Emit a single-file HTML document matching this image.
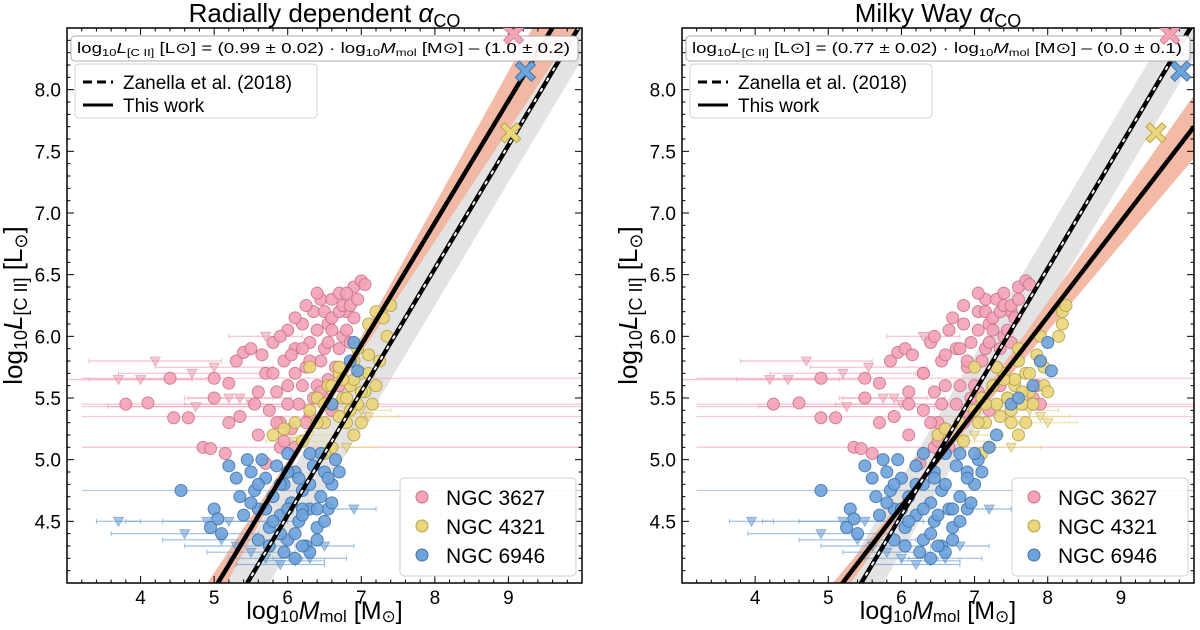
<!DOCTYPE html>
<html><head><meta charset="utf-8">
<style>
body{margin:0;background:#fff;width:1200px;height:630px;overflow:hidden}
svg{font-family:"Liberation Sans","DejaVu Sans",sans-serif;display:block}
</style></head>
<body>
<svg id="fig" width="1200" height="630" viewBox="0 0 1200 630"></svg>
<script>
// ---- data (log10 Mmol, log10 L[CII]) ----
const xTicks=[4,5,6,7,8,9];
const yTicks=[4.5,5.0,5.5,6.0,6.5,7.0,7.5,8.0];
const titles=["Radially dependent ","Milky Way "];
const fitSlope=[0.99,0.77];
const fitInter=[-1.0,0.0];
const zanSlope=1.0, zanInter=-1.45;
const crossPink=[[9.07,8.45],[9.67,8.45]];
const crossBlue=[[9.23,8.15],[9.82,8.15]];
const crossYellow=[[9.03,7.65],[9.48,7.65]];
const pinkL=[[3.8,5.45],[4.1,5.46],[4.45,5.34],[4.65,5.34],[4.4,5.66],[4.85,5.1],[4.95,5.09],[5.15,5.05],[5.0,5.5],[5.0,5.66],[5.2,5.62],[5.3,5.8],[5.4,5.87],[5.2,5.3],[5.35,5.35],[5.5,5.9],[5.55,5.45],[5.6,5.2],[5.7,5.7],[5.75,5.4],[5.8,5.95],[5.85,5.55],[5.9,5.3],[5.95,5.8],[6.0,6.05],[6.0,5.6],[6.1,5.9],[6.15,5.45],[6.2,6.1],[6.25,5.75],[6.3,5.95],[6.35,6.2],[6.4,5.6],[6.45,6.3],[6.5,5.9],[6.55,6.1],[6.6,6.3],[6.65,5.75],[6.7,6.35],[6.75,6.0],[6.8,6.2],[6.9,6.4],[7.0,6.45],[7.05,6.42],[6.85,5.95],[6.3,5.35],[6.5,5.5],[6.6,5.4],[5.9,5.1],[5.7,4.97],[6.05,5.25],[6.4,6.05],[6.2,5.6],[6.6,6.05],[6.9,6.15],[6.45,5.8],[6.7,5.6],[6.1,5.7],[6.35,5.5],[6.8,6.35],[6.55,5.65],
[5.6,5.55],[5.65,5.85],[5.8,5.7],[5.9,6.0],[6.05,5.85],[6.1,6.15],[6.25,6.25],[6.3,5.8],[6.4,6.35],[6.5,6.2],[6.55,5.95],[6.6,6.15],[6.7,6.2],[6.75,6.25],[6.8,6.05],[6.85,6.25],[6.95,6.3],[6.2,5.9],[6.0,5.45],[5.85,5.3],[6.45,5.55],[6.7,5.9],[6.25,5.3],[6.1,5.1],[5.95,5.15]];
const pinkR=[[4.25,5.45],[4.6,5.46],[4.9,5.34],[5.1,5.34],[4.9,5.66],[5.35,5.1],[5.45,5.09],[5.6,5.05],[5.5,5.5],[5.5,5.66],[5.7,5.62],[5.85,5.8],[5.95,5.87],[5.7,5.3],[5.9,5.35],[6.05,5.9],[6.1,5.45],[6.1,5.2],[6.3,5.7],[6.3,5.4],[6.4,5.95],[6.45,5.55],[6.5,5.3],[6.55,5.8],[6.65,6.05],[6.6,5.6],[6.75,5.9],[6.75,5.45],[6.85,6.1],[6.9,5.75],[6.95,5.95],[7.05,6.2],[7.0,5.6],[7.15,6.3],[7.15,5.9],[7.2,6.1],[7.3,6.3],[7.3,5.75],[7.4,6.35],[7.4,6.0],[7.5,6.2],[7.6,6.4],[7.7,6.45],[7.75,6.42],[7.5,5.95],[6.9,5.35],[7.1,5.5],[7.2,5.4],[6.45,5.1],[6.25,4.97],[6.6,5.25],[7.05,6.05],[6.8,5.6],[7.25,6.05],[7.55,6.15],[7.8,5.5],[7.9,5.45],[7.85,5.6],[7.1,5.8],[7.35,5.6],[6.95,5.5],
[6.1,5.55],[6.15,5.85],[6.3,5.7],[6.45,6.0],[6.6,5.85],[6.7,6.15],[6.85,6.25],[6.9,5.8],[7.05,6.35],[7.15,6.2],[7.2,5.95],[7.25,6.15],[7.35,6.2],[7.4,6.25],[7.45,6.05],[7.5,6.25],[7.6,6.3],[6.8,5.9],[6.55,5.45],[6.4,5.3],[7.05,5.55],[7.35,5.9],[6.85,5.3],[6.65,5.1],[6.5,5.15]];
const pinkTriL=[[4.2,5.8],[3.7,5.65],[4.0,5.65],[5.0,5.75],[4.7,5.7],[5.5,5.45],[5.2,5.5],[5.7,6.0],[4.75,5.43],[5.35,5.5]];
const pinkTriR=[[4.7,5.8],[4.2,5.65],[4.45,5.65],[5.55,5.75],[5.2,5.7],[6.0,5.45],[5.75,5.5],[6.3,6.0],[5.25,5.43],[5.9,5.5]];
const pinkErr=[0.9,1.2,0.7,0.8,1.0,0.9,0.6,0.5,1.2,0.7];
const pinkWideY=[5.66,5.45,5.43,5.35,5.10];
const yellowL=[[5.8,5.2],[5.95,5.25],[6.1,5.3],[6.2,5.15],[6.3,5.4],[6.4,5.5],[6.5,5.3],[6.55,5.6],[6.6,5.45],[6.7,5.7],[6.75,5.5],[6.8,5.3],[6.85,5.6],[6.9,5.8],[6.95,5.45],[7.0,5.7],[7.05,5.55],[7.1,5.85],[7.2,5.6],[7.2,6.2],[7.3,6.15],[7.35,6.0],[7.4,6.25],[6.7,5.75],[6.6,5.1],[6.5,5.05],[6.9,5.2],[6.3,5.75],[7.1,6.1],[7.0,5.3],
[6.4,5.3],[6.5,5.45],[6.6,5.6],[6.7,5.35],[6.8,5.5],[6.9,5.65],[7.0,5.55],[7.1,5.7],[7.15,5.45],[6.85,5.4],[6.75,5.65],[6.95,5.9],[7.25,5.8]];
const yellowR=[[6.5,5.2],[6.6,5.25],[6.8,5.3],[6.85,5.15],[7.0,5.4],[7.1,5.5],[7.15,5.3],[7.25,5.6],[7.3,5.45],[7.4,5.7],[7.45,5.5],[7.5,5.3],[7.55,5.6],[7.6,5.8],[7.65,5.45],[7.7,5.7],[7.75,5.55],[7.85,5.85],[7.95,5.6],[8.2,6.2],[8.2,6.1],[8.15,6.0],[8.25,6.25],[7.3,5.75],[7.2,5.1],[7.1,5.05],[7.6,5.2],[7.0,5.75],[7.9,6.0],[7.7,5.3],[7.95,5.75],[8.0,5.55],
[7.05,5.3],[7.15,5.45],[7.25,5.6],[7.35,5.35],[7.45,5.5],[7.55,5.65],[7.65,5.55],[7.75,5.7],[7.8,5.45],[7.5,5.4],[7.4,5.65],[7.6,5.9],[7.9,5.8]];
const yellowTriL=[[6.1,5.15],[6.3,5.2],[7.1,5.35],[6.8,5.1],[7.0,5.4]];
const yellowTriR=[[6.8,5.15],[7.0,5.2],[7.9,5.35],[7.5,5.1],[7.75,5.4],[8.0,5.3]];
const blueL=[[4.55,4.75],[5.0,4.6],[5.05,4.52],[4.95,4.45],[5.2,4.95],[5.3,4.85],[5.35,4.7],[5.4,4.55],[5.5,4.9],[5.55,4.75],[5.6,4.6],[5.65,5.0],[5.7,4.85],[5.75,4.45],[5.8,4.7],[5.85,4.95],[5.9,4.55],[5.95,4.8],[6.0,4.35],[6.05,4.65],[6.1,4.9],[6.15,4.5],[6.2,4.75],[6.25,4.3],[6.3,4.6],[6.35,4.95],[6.4,4.45],[6.45,4.7],[6.5,4.9],[6.55,4.6],[6.6,4.8],[6.65,5.0],[6.3,4.25],[5.6,4.35],[6.6,5.45],[6.9,5.95],[6.85,5.8],[6.95,5.72],[5.45,5.0],[5.1,4.4],[6.1,4.2],[5.9,4.4],[6.2,4.6],[6.0,4.9],
[5.5,4.65],[5.6,4.8],[5.7,4.6],[5.8,4.5],[5.9,4.8],[6.0,4.6],[6.1,4.4],[6.2,4.55],[6.3,4.8],[6.4,4.6],[6.5,4.5],[6.55,4.85],[6.6,4.65],[6.7,4.9],[6.45,5.05],[6.3,5.05],[6.0,5.05],[6.2,4.3],[6.4,4.35],[5.75,4.3],[5.95,4.25],[6.15,4.85]];
const blueR=[[4.9,4.75],[5.3,4.6],[5.35,4.52],[5.25,4.45],[5.5,4.95],[5.6,4.85],[5.65,4.7],[5.7,4.55],[5.8,4.9],[5.85,4.75],[5.9,4.6],[5.95,5.0],[6.0,4.85],[6.05,4.45],[6.1,4.7],[6.2,4.95],[6.2,4.55],[6.3,4.8],[6.3,4.35],[6.4,4.65],[6.45,4.9],[6.45,4.5],[6.55,4.75],[6.55,4.3],[6.65,4.6],[6.75,4.95],[6.7,4.45],[6.8,4.7],[6.9,4.9],[6.9,4.6],[7.0,4.8],[7.05,5.0],[6.6,4.25],[5.9,4.35],[7.5,5.45],[8.0,5.95],[7.9,5.8],[8.05,5.72],[5.75,5.0],[5.4,4.4],[6.4,4.2],[7.0,5.05],[7.6,5.5],[7.8,5.6],
[5.8,4.65],[5.9,4.8],[6.0,4.6],[6.1,4.5],[6.2,4.8],[6.3,4.6],[6.4,4.4],[6.5,4.55],[6.6,4.8],[6.7,4.6],[6.8,4.5],[6.9,4.85],[6.95,4.65],[7.1,4.9],[6.8,5.05],[6.6,5.05],[6.3,5.05],[6.5,4.3],[6.7,4.35],[6.05,4.3],[6.25,4.25],[6.45,4.85],[7.3,5.2],[7.2,5.1]];
const blueTriL=[[3.7,4.5],[4.6,4.4],[5.1,4.35],[5.3,4.3],[5.5,4.25],[5.7,4.2],[5.9,4.15],[6.1,4.18],[6.3,4.2],[6.5,4.3],[6.9,4.6],[4.9,4.5],[5.2,4.5]];
const blueTriR=[[3.95,4.5],[4.9,4.4],[5.4,4.35],[5.6,4.3],[5.8,4.25],[6.0,4.2],[6.2,4.15],[6.4,4.18],[6.6,4.2],[6.8,4.3],[7.2,4.6],[5.2,4.5],[5.5,4.5]];
const blueErr=[0.3,1.0,0.8,0.7,0.6,0.5,0.6,0.4,0.5,0.4,0.3,1.1,0.9];
const blueWideY=[4.75];
const equations=["(0.99 ± 0.02) · log","(0.77 ± 0.02) · log"];
const eqTails=["– (1.0 ± 0.2)","– (0.0 ± 0.1)"];

const NS="http://www.w3.org/2000/svg";
const svg=document.getElementById('fig');
function mk(tag,attrs,parent){const e=document.createElementNS(NS,tag);for(const k in attrs)e.setAttribute(k,attrs[k]);(parent||svg).appendChild(e);return e;}
const panels=[{L:67,R:582,T:28,B:583},{L:682,R:1194,T:28,B:583}];
const X0=3,X1=10,Y0=4,Y1=8.5;
const COL={pink:["#f5a3b7","#c9738a"],yellow:["#ead67c","#b7a247"],blue:["#6ea3dc","#3f72ab"]};

panels.forEach((p,i)=>{
  const sx=x=>p.L+(x-X0)/(X1-X0)*(p.R-p.L);
  const sy=y=>p.B-(y-Y0)/(Y1-Y0)*(p.B-p.T);
  const g=mk('g',{});
  
  
  const cid='clip'+i;
  const cp=mk('clipPath',{id:cid},g);mk('rect',{x:p.L,y:p.T,width:p.R-p.L,height:p.B-p.T},cp);
  const pg=mk('g',{'clip-path':'url(#'+cid+')'},g);
  const band=(f,e)=>{let up=[],dn=[];for(let x=X0;x<=X1+0.001;x+=0.1){up.push(sx(x)+','+sy(f(x)+e(x)));dn.unshift(sx(x)+','+sy(f(x)-e(x)));}return up.concat(dn).join(' ');};
  const zf=x=>zanSlope*x+zanInter;
  const zb=mk('polygon',{points:band(zf,()=>0.3),fill:'#e3e3e3'},pg);
  
  const ff=x=>fitSlope[i]*x+fitInter[i];
  const fb=mk('polygon',{points:band(ff,x=>Math.sqrt(Math.pow((i?0.07:0.09)*(x-6.4),2)+0.0016)),fill:'#f2b39c',opacity:0.9},pg);
  
  const drawWide=(ys,col)=>ys.forEach(y=>{const l=mk('line',{x1:sx(3.2),x2:sx(10),y1:sy(y),y2:sy(y),stroke:col,'stroke-width':1.3,opacity:0.55},pg);});
  drawWide(pinkWideY,'#f29bb0');drawWide(blueWideY,'#6ea3dc');
  const tri=(pts,errs,c)=>pts.forEach((pt,k)=>{const x=sx(pt[0]),y=sy(pt[1]);const e=(errs&&errs[k]!==undefined?errs[k]:0.4)*(p.R-p.L)/7;
    const l=mk('line',{x1:x-e,x2:x+e,y1:y,y2:y,stroke:c[0],'stroke-width':1.2,opacity:0.7},pg);
    mk('line',{x1:x-e,x2:x-e,y1:y-2.5,y2:y+2.5,stroke:c[0],opacity:0.7},pg);mk('line',{x1:x+e,x2:x+e,y1:y-2.5,y2:y+2.5,stroke:c[0],opacity:0.7},pg);
    const t=mk('polygon',{points:`${x-5},${y-4} ${x+5},${y-4} ${x},${y+5}`,fill:c[0],stroke:c[1],'stroke-width':0.8,opacity:0.6},pg);
    });
  const circ=(pts,c)=>pts.forEach(pt=>{const ci=mk('circle',{cx:sx(pt[0]),cy:sy(pt[1]),r:6,fill:c[0],stroke:c[1],'stroke-width':1,opacity:0.9},pg);
    });
  tri(i?pinkTriR:pinkTriL,pinkErr,COL.pink);
  tri(i?blueTriR:blueTriL,blueErr,COL.blue);
  tri(i?yellowTriR:yellowTriL,null,COL.yellow);
  circ(i?pinkR:pinkL,COL.pink);
  circ(i?yellowR:yellowL,COL.yellow);
  circ(i?blueR:blueL,COL.blue);
  const fl=mk('line',{x1:sx(X0),y1:sy(ff(X0)),x2:sx(X1),y2:sy(ff(X1)),stroke:'#000','stroke-width':4.5},pg);
  
  const zl=mk('line',{x1:sx(X0),y1:sy(zf(X0)),x2:sx(X1),y2:sy(zf(X1)),stroke:'#000','stroke-width':4.5},pg);
  
  mk('line',{x1:sx(X0),y1:sy(zf(X0)),x2:sx(X1),y2:sy(zf(X1)),stroke:'#fff','stroke-width':2,'stroke-dasharray':'4 8'},pg);
  const fr=mk('rect',{x:p.L,y:p.T,width:p.R-p.L,height:p.B-p.T,fill:'none',stroke:'#000','stroke-width':1.5},g);
  
  for(let k=0;k<=35;k++){const x=X0+k*0.2;const X=sx(x);const maj=Math.abs(x-Math.round(x))<1e-6;const len=maj?7:3.5;
    mk('line',{x1:X,x2:X,y1:p.B,y2:p.B-len,stroke:'#000'},g);mk('line',{x1:X,x2:X,y1:p.T,y2:p.T+len,stroke:'#000'},g);}
  for(let k=0;k<=45;k++){const y=Y0+k*0.1;const Y=sy(y);const maj=(k%5===0);const len=maj?7:3.5;
    mk('line',{x1:p.L,x2:p.L+len,y1:Y,y2:Y,stroke:'#000'},g);mk('line',{x1:p.R,x2:p.R-len,y1:Y,y2:Y,stroke:'#000'},g);}
  xTicks.forEach(v=>{const t=mk('text',{x:sx(v),y:p.B+21,'text-anchor':'middle','font-size':19},g);t.textContent=v;});
  yTicks.forEach(v=>{const t=mk('text',{x:p.L-6,y:sy(v)+7,'text-anchor':'end','font-size':19},g);t.textContent=v.toFixed(1);});
  const cx=(p.L+p.R)/2;
  const tt=mk('text',{x:cx,y:22,'text-anchor':'middle','font-size':26},g);
  
  tt.innerHTML=titles[i]+'<tspan font-style="italic">α</tspan><tspan font-size="18" dy="5">CO</tspan>';
  const xl=mk('text',{x:cx,y:619,'text-anchor':'middle','font-size':25},g);
  
  xl.innerHTML='log<tspan font-size="17" dy="3">10</tspan><tspan font-style="italic" dy="-3">M</tspan><tspan font-size="17" dy="3">mol</tspan><tspan dy="-3"> [M</tspan><tspan font-size="17" dy="3">⊙</tspan><tspan dy="-3">]</tspan>';
  const yl=mk('text',{x:0,y:0,'text-anchor':'middle','font-size':26,transform:`translate(${p.L-45},${(p.T+p.B)/2}) rotate(-90)`},g);
  
  yl.innerHTML='log<tspan font-size="18" dy="5">10</tspan><tspan font-style="italic" dy="-5">L</tspan><tspan font-size="18" dy="5">[C II]</tspan><tspan dy="-5"> [L</tspan><tspan font-size="18" dy="5">⊙</tspan><tspan dy="-5">]</tspan>';
  const eb=mk('rect',{x:p.L+4,y:36,width:p.R-p.L-8,height:25,rx:4,fill:'#fff',stroke:'#aaa','stroke-width':1,opacity:0.95},g);
  
  const et=mk('text',{x:p.L+10,y:53,'font-size':14.5,textLength:p.R-p.L-22,lengthAdjust:'spacingAndGlyphs'},g);
  
  et.innerHTML='log<tspan font-size="10" dy="3">10</tspan><tspan font-style="italic" dy="-3">L</tspan><tspan font-size="10" dy="3">[C II]</tspan><tspan dy="-3"> [L⊙] =  '+equations[i]+'</tspan><tspan font-size="10" dy="3">10</tspan><tspan font-style="italic" dy="-3">M</tspan><tspan font-size="10" dy="3">mol</tspan><tspan dy="-3"> [M⊙] '+eqTails[i]+'</tspan>';
  const lg=mk('g',{},g);
  mk('rect',{x:p.L+8,y:64,width:242,height:54,rx:4,fill:'#fff',stroke:'#ccc',opacity:0.9},lg);
  mk('line',{x1:p.L+16,x2:p.L+46,y1:82,y2:82,stroke:'#000','stroke-width':3,'stroke-dasharray':'9 5'},lg);
  mk('line',{x1:p.L+16,x2:p.L+46,y1:105,y2:105,stroke:'#000','stroke-width':3},lg);
  const t1=mk('text',{x:p.L+56,y:89,'font-size':19},lg);t1.textContent='Zanella et al. (2018)';
  const t2=mk('text',{x:p.L+56,y:112,'font-size':19},lg);t2.textContent='This work';
  const gl=mk('g',{},g);
  mk('rect',{x:p.R-182,y:478,width:176,height:98,rx:4,fill:'#fff',stroke:'#ccc',opacity:0.9},gl);
  [['NGC 3627',COL.pink],['NGC 4321',COL.yellow],['NGC 6946',COL.blue]].forEach(([n,c],k)=>{
    const y=497+k*29;mk('circle',{cx:p.R-160,cy:y,r:6,fill:c[0],stroke:c[1]},gl);
    const t=mk('text',{x:p.R-136,y:y+8,'font-size':21},gl);t.textContent=n;});
  const cg=mk('g',{'clip-path':'url(#'+cid+')'},g);
  [[crossPink[i],'#f5a3b7','#d88497'],[crossBlue[i],'#6ea3dc','#3f72ab'],[crossYellow[i],'#ead67c','#b7a247']].forEach(([pt,f,s])=>{
    const x=sx(pt[0]),y=sy(pt[1]);const a=10,b=4;
    const c=mk('path',{d:`M${x-a},${y-a+b} L${x-a+b},${y-a} L${x},${y-b} L${x+a-b},${y-a} L${x+a},${y-a+b} L${x+b},${y} L${x+a},${y+a-b} L${x+a-b},${y+a} L${x},${y+b} L${x-a+b},${y+a} L${x-a},${y+a-b} L${x-b},${y} Z`,fill:f,stroke:s,'stroke-width':1},cg);
    });
});
</script>
</body></html>
